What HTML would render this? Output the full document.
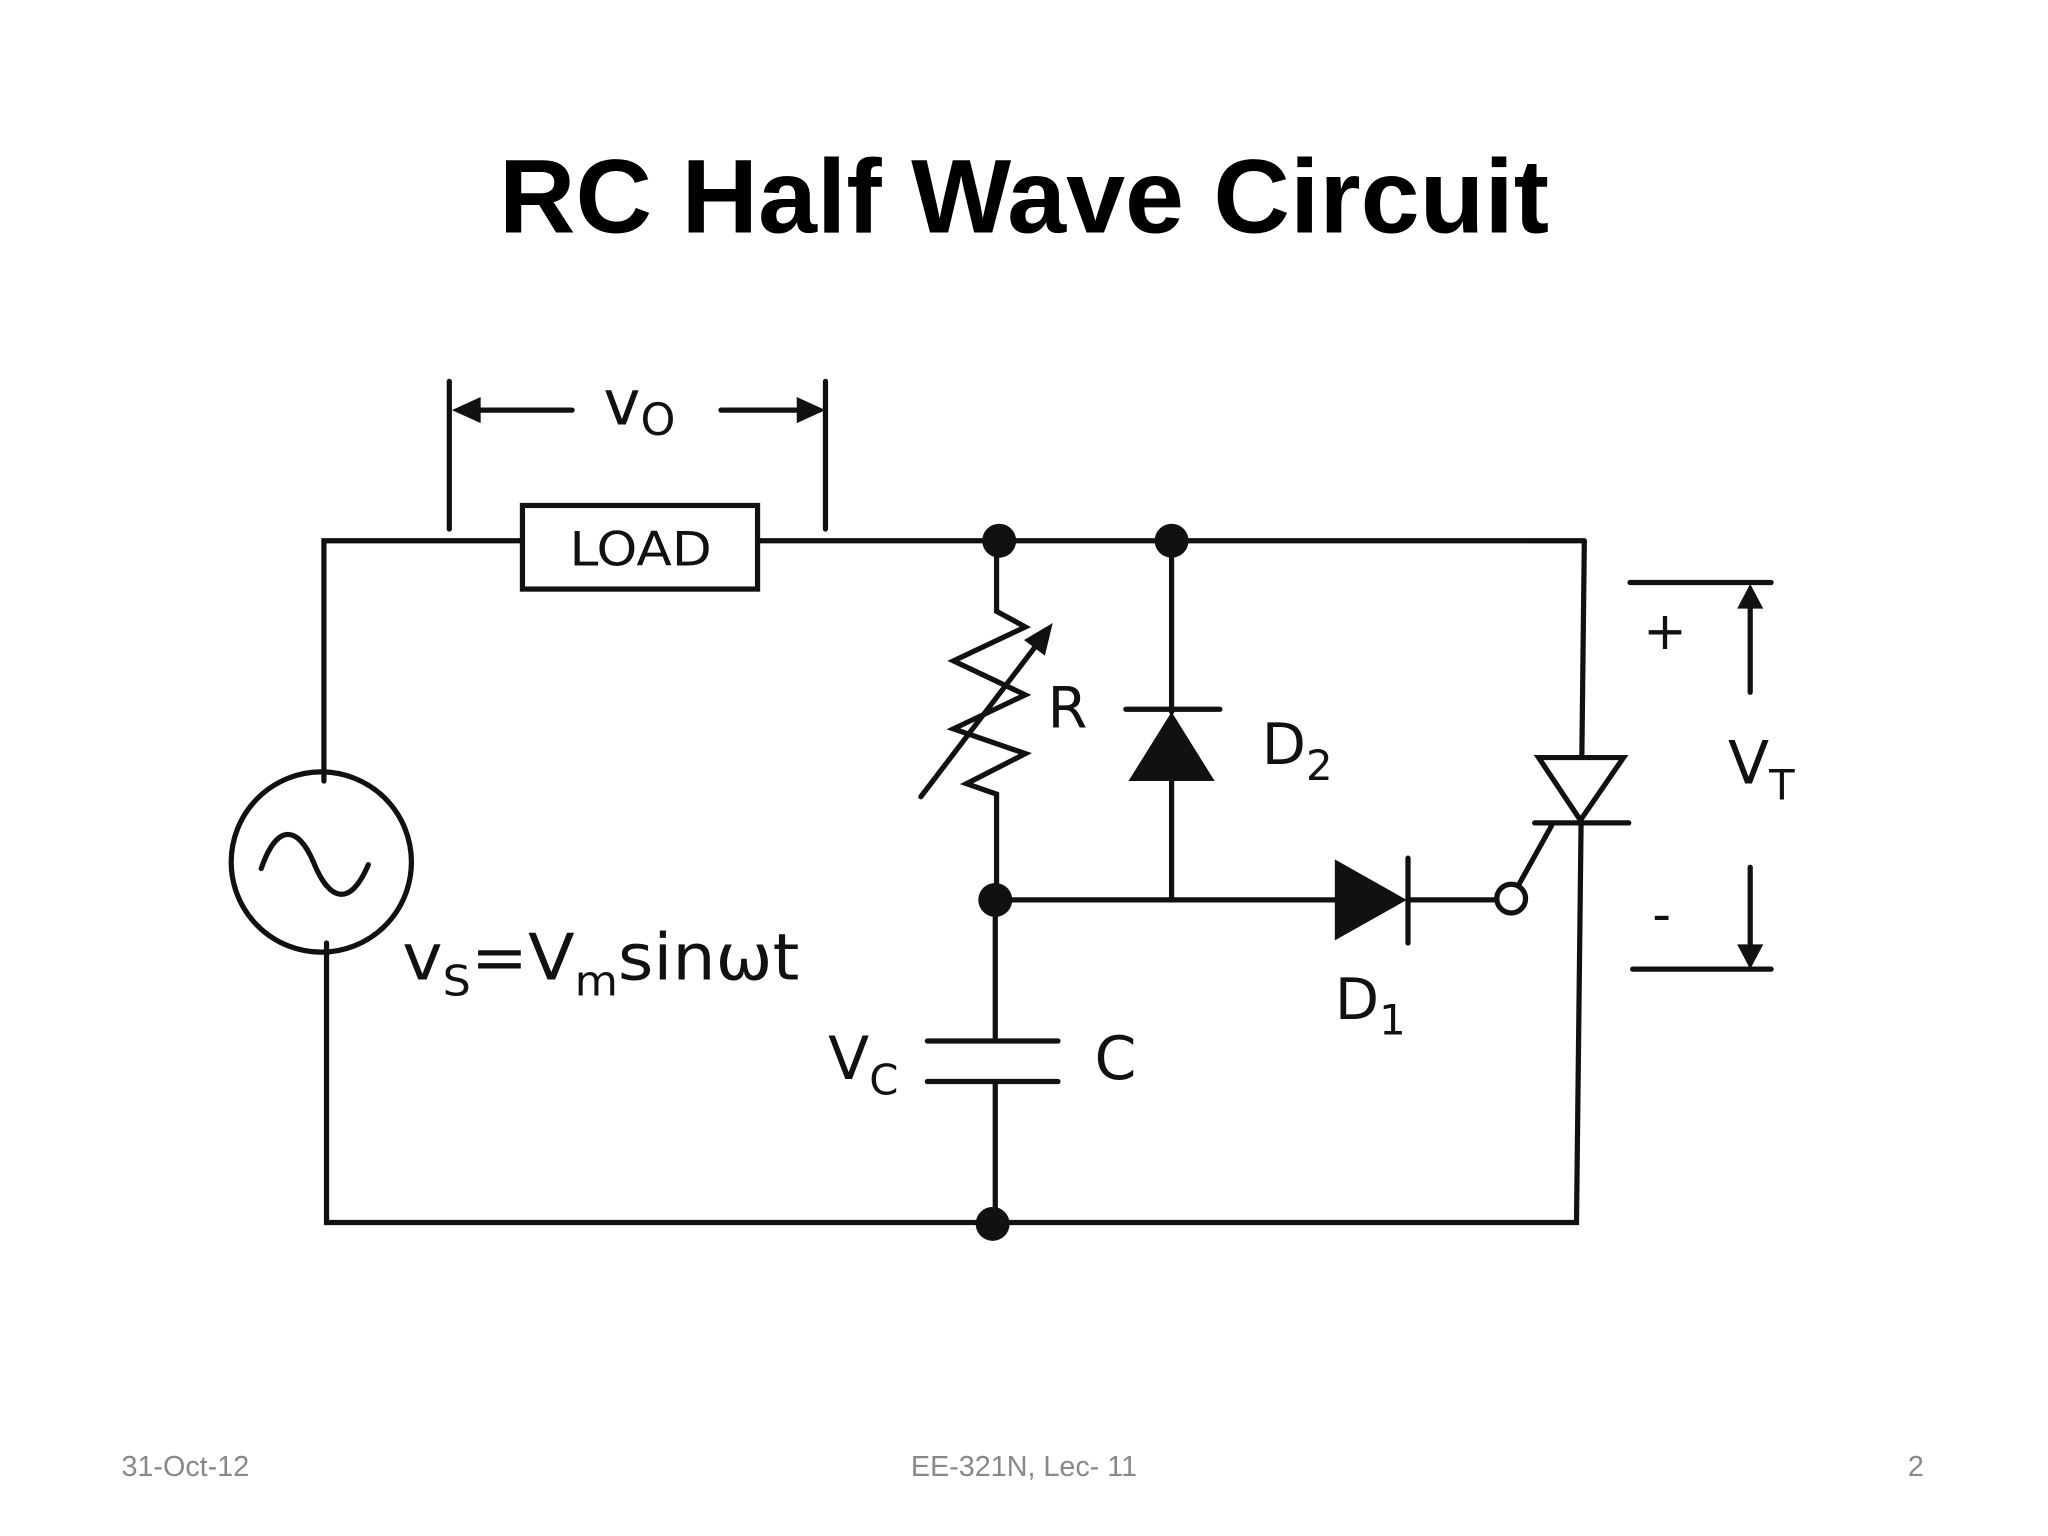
<!DOCTYPE html>
<html><head><meta charset="utf-8"><style>
html,body{margin:0;padding:0;background:#fff;}
svg{display:block;}
</style></head><body>
<svg width="2048" height="1536" viewBox="0 0 1568 1176" xmlns="http://www.w3.org/2000/svg">
<rect width="1568" height="1176" fill="#fff"/>
<text x="784" y="178" text-anchor="middle" font-family="Liberation Sans, sans-serif" font-weight="bold" font-size="80" textLength="804" lengthAdjust="spacingAndGlyphs" fill="#000">RC Half Wave Circuit</text>
<g stroke="#111" stroke-width="4" fill="none" stroke-linecap="round">
<polyline points="400,414 248,414 248,598"/>
<line x1="580" y1="414" x2="1212" y2="414"/>
<rect x="400" y="387" width="180" height="64"/>
<polyline points="250,722 250,936 1207,936 1213,414"/>
<circle cx="246" cy="660" r="69"/>
<path d="M200,665 C212,630 228,632 240,660 C252,690 268,695 282,662"/>
<line x1="344" y1="292" x2="344" y2="405"/>
<line x1="632" y1="292" x2="632" y2="405"/>
<line x1="360" y1="314" x2="438" y2="314"/>
<line x1="552" y1="314" x2="616" y2="314"/>
<polyline points="763,414 763,468 785,480 730,506 785,532 730,558 785,577 740,600 763,608 763,689"/>
<line x1="705" y1="610" x2="795" y2="492"/>
<line x1="897" y1="414" x2="897" y2="545"/>
<line x1="862" y1="543" x2="934" y2="543"/>
<line x1="897" y1="598" x2="897" y2="689"/>
<line x1="762" y1="689" x2="1022" y2="689"/>
<line x1="1078" y1="657" x2="1078" y2="722"/>
<line x1="1078" y1="689" x2="1145" y2="689"/>
<circle cx="1157" cy="688" r="11" fill="#fff"/>
<line x1="1163" y1="677" x2="1188" y2="632"/>
<polygon points="1178,580 1243,580 1210,628" fill="#fff"/>
<line x1="1175" y1="630" x2="1247" y2="630"/>
<line x1="1248" y1="446" x2="1356" y2="446"/>
<line x1="1250" y1="742" x2="1356" y2="742"/>
<line x1="1340" y1="530" x2="1340" y2="462"/>
<line x1="1340" y1="664" x2="1340" y2="726"/>
<line x1="762" y1="689" x2="762" y2="797"/>
<line x1="710" y1="797" x2="810" y2="797"/>
<line x1="710" y1="828" x2="810" y2="828"/>
<line x1="762" y1="828" x2="762" y2="937"/>
</g>
<g fill="#111">
<polygon points="346,314 368,304 368,324"/>
<polygon points="632,314 610,304 610,324"/>
<polygon points="806,477 784,490 800,502"/>
<polygon points="897,545 864,598 930,598"/>
<polygon points="1022,658 1022,720 1077,689"/>
<polygon points="1340,447 1330,466 1350,466"/>
<polygon points="1340,742 1330,723 1350,723"/>
<circle cx="765" cy="414" r="13"/>
<circle cx="897" cy="414" r="13"/>
<circle cx="762" cy="689" r="13"/>
<circle cx="760" cy="937" r="13"/>
</g>
<g font-family="DejaVu Sans, sans-serif" fill="#111">
<text x="436" y="433" font-size="36" textLength="109" lengthAdjust="spacingAndGlyphs">LOAD</text>
<text x="462" y="325" font-size="48">v<tspan font-size="34" dy="8">O</tspan></text>
<text x="802" y="557" font-size="44">R</text>
<text x="966" y="585" font-size="44">D<tspan font-size="32" dy="12">2</tspan></text>
<text x="1022" y="780" font-size="44">D<tspan font-size="32" dy="12">1</tspan></text>
<text x="1258" y="497" font-size="40">+</text>
<text x="1265" y="714" font-size="40">-</text>
<text x="1323" y="600" font-size="46">V<tspan font-size="32" dy="12">T</tspan></text>
<text x="634" y="826" font-size="46">V<tspan font-size="32" dy="12">C</tspan></text>
<text x="838" y="826" font-size="46">C</text>
<text x="308" y="750" font-size="49" textLength="304" lengthAdjust="spacingAndGlyphs">v<tspan font-size="32" dy="12">S</tspan><tspan dy="-12">=V</tspan><tspan font-size="32" dy="12">m</tspan><tspan dy="-12">sinωt</tspan></text>
</g>
<g font-family="Liberation Sans, sans-serif" font-size="22" fill="#888">
<text x="93" y="1130">31-Oct-12</text>
<text x="784" y="1130" text-anchor="middle">EE-321N, Lec- 11</text>
<text x="1473" y="1130" text-anchor="end">2</text>
</g>
</svg>
</body></html>
